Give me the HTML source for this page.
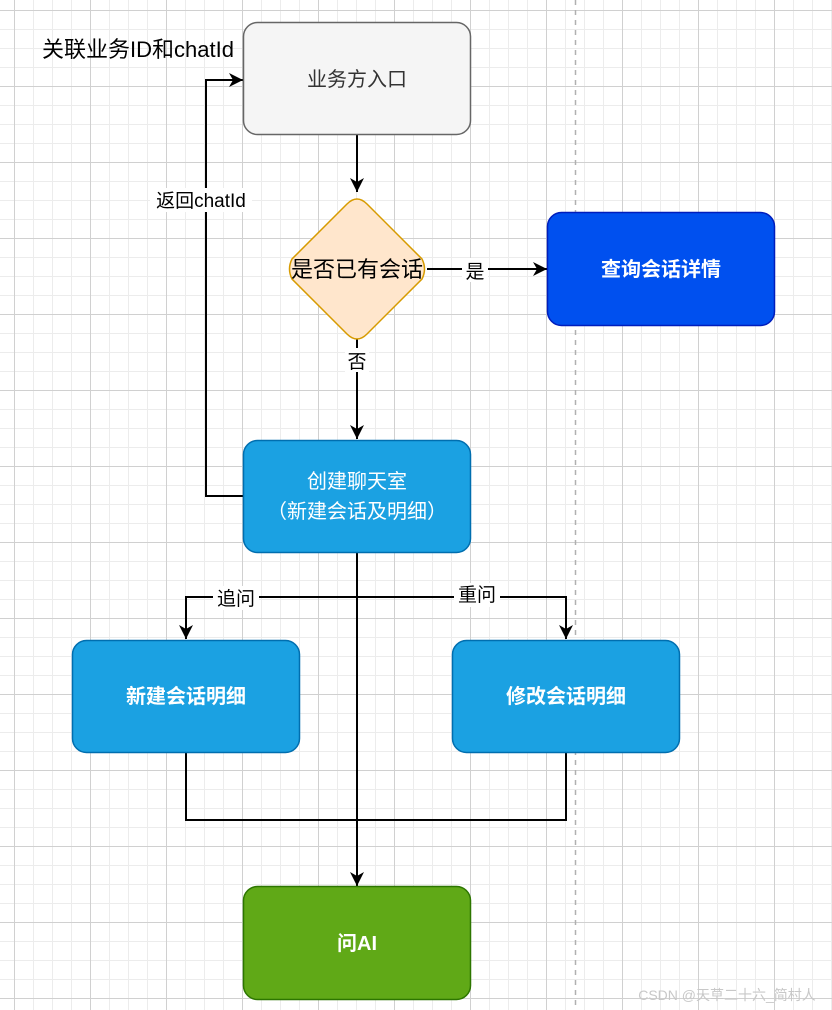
<!DOCTYPE html>
<html><head><meta charset="utf-8"><style>
html,body{margin:0;padding:0;background:#fff}
svg{display:block}
text{font-family:"Liberation Sans","Noto Sans CJK SC",sans-serif}
</style></head><body>
<svg width="832" height="1010" viewBox="0 0 832 1010" xmlns="http://www.w3.org/2000/svg">
<defs>
<pattern id="minor" x="14" y="10" width="19" height="19" patternUnits="userSpaceOnUse">
<path d="M0 0.5H19M0.5 0V19" stroke="#ececec" stroke-width="1" fill="none"/>
</pattern>
<pattern id="major" x="14" y="10" width="76" height="76" patternUnits="userSpaceOnUse">
<path d="M0 0.5H76M0.5 0V76" stroke="#d0d0d0" stroke-width="1" fill="none"/>
</pattern>
<marker id="ah" markerWidth="16" markerHeight="16" refX="14" refY="7" orient="auto" markerUnits="userSpaceOnUse">
<path d="M0 0L14 7L0 14L4 7Z" fill="#000"/>
</marker>
</defs>
<rect width="832" height="1010" fill="#fff"/>
<rect width="832" height="1010" fill="url(#minor)"/>
<rect width="832" height="1010" fill="url(#major)"/>
<line x1="575.5" y1="0" x2="575.5" y2="1010" stroke="#b0b0b0" stroke-width="1.5" stroke-dasharray="5,5"/>

<g stroke="#000" stroke-width="2" fill="none">
<path d="M357 135V192" marker-end="url(#ah)"/>
<path d="M357 339V439" marker-end="url(#ah)"/>
<path d="M427 269H547" marker-end="url(#ah)"/>
<path d="M243 496H206V80H243" marker-end="url(#ah)"/>
<path d="M357 553V886" marker-end="url(#ah)"/>
<path d="M357 597H186V639" marker-end="url(#ah)"/>
<path d="M357 597H566V639" marker-end="url(#ah)"/>
<path d="M186 753V820H566V753"/>
</g>

<rect x="243.5" y="22.5" width="227" height="112" rx="14" fill="#f5f5f5" stroke="#666" stroke-width="1.5"/>
<text x="357" y="86" font-size="20" text-anchor="middle" fill="#333">业务方入口</text>

<path d="M357 199 Q362 199 367 204 L422 259 Q427 269 422 279 L367 334 Q357 344 347 334 L292 279 Q287 269 292 259 L347 204 Q352 199 357 199Z" fill="#ffe6cc" stroke="#d79b00" stroke-width="1.5"/>
<text x="357" y="277" font-size="22" text-anchor="middle" fill="#000">是否已有会话</text>

<rect x="547.5" y="212.5" width="227" height="113" rx="14" fill="#0050ef" stroke="#001dbc" stroke-width="1.5"/>
<text x="661" y="276" font-size="20" font-weight="bold" text-anchor="middle" fill="#fff">查询会话详情</text>

<rect x="243.5" y="440.5" width="227" height="112" rx="14" fill="#1ba1e2" stroke="#006eaf" stroke-width="1.5"/>
<text x="357" y="488" font-size="20" text-anchor="middle" fill="#fff">创建聊天室</text>
<text x="357" y="518" font-size="20" text-anchor="middle" fill="#fff">（新建会话及明细）</text>

<rect x="72.5" y="640.5" width="227" height="112" rx="14" fill="#1ba1e2" stroke="#006eaf" stroke-width="1.5"/>
<text x="186" y="703" font-size="20" font-weight="bold" text-anchor="middle" fill="#fff">新建会话明细</text>

<rect x="452.5" y="640.5" width="227" height="112" rx="14" fill="#1ba1e2" stroke="#006eaf" stroke-width="1.5"/>
<text x="566" y="703" font-size="20" font-weight="bold" text-anchor="middle" fill="#fff">修改会话明细</text>

<rect x="243.5" y="886.5" width="227" height="113" rx="14" fill="#60a917" stroke="#2d7600" stroke-width="1.5"/>
<text x="357" y="950" font-size="20" font-weight="bold" text-anchor="middle" fill="#fff">问AI</text>

<g font-size="19" text-anchor="middle" fill="#000">
<rect x="462" y="258" width="26" height="24" fill="#fff"/>
<text x="475" y="278">是</text>
<rect x="345" y="348" width="24" height="24" fill="#fff"/>
<text x="357" y="368">否</text>
<rect x="150" y="188" width="102" height="24" fill="#fff"/>
<text x="201" y="207">返回chatId</text>
<text x="138" y="57" font-size="22">关联业务ID和chatId</text>
<rect x="213" y="586" width="46" height="24" fill="#fff"/>
<text x="236" y="605">追问</text>
<rect x="454" y="583" width="46" height="24" fill="#fff"/>
<text x="477" y="601">重问</text>
</g>
<text x="727" y="1000" font-size="14" text-anchor="middle" fill="#c8c8c8">CSDN @天草二十六_简村人</text>
</svg>
</body></html>
